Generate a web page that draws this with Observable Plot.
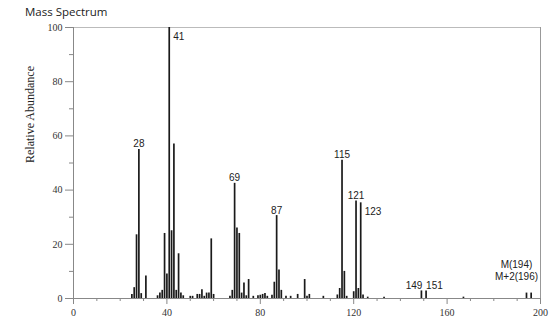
<!DOCTYPE html>
<html>
<head>
<meta charset="utf-8">
<script src="https://cdn.jsdelivr.net/npm/d3@7"></script>
<script src="https://cdn.jsdelivr.net/npm/@observablehq/plot@0.6"></script>
<style>
  html, body { margin: 0; padding: 0; background: #fff; }
  #title { height: 18px; line-height: 24px; padding-left: 25px; font-family: "Open Sans", sans-serif; font-size: 11.5px; color: #222; }
</style>
</head>
<body>
<div id="title">Mass Spectrum</div>
<div id="chart"></div>
<script>
// m/z values and relative abundances
const mz = [25, 26, 27, 28, 29, 31, 36, 37, 38, 39, 40, 41, 42, 43, 44, 45, 46, 47,
  50, 51, 53, 54, 55, 56, 57, 58, 59, 60, 67, 68, 69, 70, 71, 72, 73, 74, 75, 77,
  79, 80, 81, 82, 83, 85, 86, 87, 88, 89, 91, 93, 96, 99, 100, 101, 107,
  113, 114, 115, 116, 117, 120, 121, 122, 123, 124, 126, 133, 149, 151, 167, 194, 196];
const abundance = [1.5, 4, 23.5, 55, 1.8, 8.3, 1, 2, 3, 24, 9, 100, 25, 57, 3, 16.5, 2, 1,
  0.8, 0.8, 1.5, 1.5, 3.2, 0.8, 2, 2, 22, 1.5, 0.8, 3, 42.5, 26, 24, 2, 5.7, 1, 7, 0.8,
  1, 1.2, 1.5, 1.8, 0.8, 1.2, 6, 30.6, 10.5, 3, 0.8, 0.8, 1.5, 7, 0.8, 1.5, 0.8,
  1.3, 3.7, 51, 10, 0.8, 2.5, 36, 3.7, 35.3, 1.3, 0.5, 0.5, 2.8, 2.8, 0.5, 2, 2];

// peak labels
const labelAbove = [28, 69, 87, 115, 121];
const labelRight = [41, 123];
const labelLeftOfPair = [149];
const labelRightOfPair = [151];
const molecularText = "M(194)\nM+2(196)";
const molecularPeak = 194;

const yMajor = [0, 20, 40, 60, 80, 100];
const yMinor = [10, 30, 50, 70, 90];
const xMajor = [0, 40, 80, 120, 160, 200];
const xMinor = [10, 20, 30, 50, 60, 70, 90, 100, 110, 130, 140, 150, 170, 180, 190];

const peaks = mz.map((m, i) => ({mz: m, ab: abundance[i]}));
const byMz = new Map(peaks.map(p => [p.mz, p]));
const sel = arr => arr.map(m => byMz.get(m));

const serif = "'Liberation Serif', 'DejaVu Serif', serif";
const sans = "'Liberation Sans', Arial, sans-serif";
const labelStyle = {fontFamily: sans, fontSize: 10, fill: "#222"};

const chart = Plot.plot({
  width: 560,
  height: 307,
  marginTop: 9,
  marginBottom: 27,
  marginLeft: 73,
  marginRight: 20,
  style: {background: "#fff", color: "#333"},
  x: {domain: [0, 200]},
  y: {domain: [0, 100]},
  marks: [
    Plot.ruleY([100], {stroke: "#bbb", strokeWidth: 1}),
    Plot.ruleX([200], {stroke: "#999", strokeWidth: 1}),
    Plot.axisY({ticks: yMajor, tickSize: 8, tickPadding: 3, label: null, stroke: "#888",
      fontFamily: serif, fontSize: 10, fill: "#333"}),
    Plot.axisY({ticks: yMinor, tickSize: 4, tickFormat: () => "", label: null, stroke: "#888"}),
    Plot.axisX({ticks: xMajor, tickSize: 6, tickPadding: 4, label: null, stroke: "#888",
      fontFamily: serif, fontSize: 10, fill: "#333"}),
    Plot.axisX({ticks: xMinor, tickSize: 3, tickFormat: () => "", label: null, stroke: "#888"}),
    Plot.ruleX([0], {stroke: "#888"}),
    Plot.ruleY([0], {stroke: "#888"}),
    Plot.ruleX(peaks, {x: "mz", y1: 0, y2: "ab", stroke: "#1a1a1a", strokeWidth: 1.7}),
    Plot.text(sel(labelAbove), {x: "mz", y: "ab", text: d => String(d.mz), lineAnchor: "bottom", dy: -2, ...labelStyle}),
    Plot.text(sel(labelRight), {x: "mz", y: "ab", text: d => String(d.mz), textAnchor: "start", lineAnchor: "top", dx: 4, dy: 5, ...labelStyle}),
    Plot.text(sel(labelLeftOfPair), {x: "mz", y: "ab", text: d => String(d.mz), textAnchor: "end", lineAnchor: "bottom", dx: 1, dy: -2, ...labelStyle}),
    Plot.text(sel(labelRightOfPair), {x: "mz", y: "ab", text: d => String(d.mz), textAnchor: "start", lineAnchor: "bottom", dx: 0, dy: -2, ...labelStyle}),
    Plot.text([byMz.get(molecularPeak)], {x: "mz", y: "ab", text: () => molecularText, lineAnchor: "bottom", dy: -13, dx: -10,
      lineHeight: 1.2, ...labelStyle}),
    Plot.text(["Relative Abundance"], {frameAnchor: "left", dx: -43, rotate: -90, fontFamily: serif, fontSize: 12, fill: "#222"})
  ]
});
document.getElementById("chart").appendChild(chart);
</script>
</body>
</html>
